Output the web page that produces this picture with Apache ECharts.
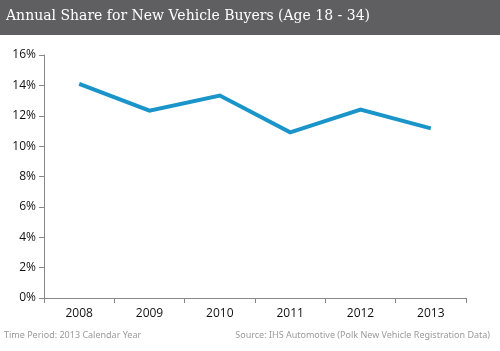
<!DOCTYPE html>
<html><head><meta charset="utf-8">
<script src="https://cdn.jsdelivr.net/npm/echarts@6/dist/echarts.min.js"></script>
<style>html,body{margin:0;padding:0;background:#fff}#c{width:500px;height:351px}</style>
</head><body><div id="c"></div>
<script>
const categories = ['2008','2009','2010','2011','2012','2013'];
const shareValues = [14.1, 12.33, 13.33, 10.91, 12.4, 11.17];
const yTicks = {min: 0, max: 16, interval: 2};
const titleText = 'Annual Share for New Vehicle Buyers (Age 18 - 34)';
const footLeft = 'Time Period: 2013 Calendar Year';
const footRight = 'Source: IHS Automotive (Polk New Vehicle Registration Data)';

const chart = echarts.init(document.getElementById('c'));
chart.setOption({
  animation: false,
  graphic: [
    {type:'rect', shape:{x:0,y:0,width:500,height:35}, style:{fill:'#5f5f61'}},
    {type:'text', left: 6, top: 9, style:{text:titleText, fill:'#ffffff', font:'14px "DejaVu Serif", "Liberation Serif", serif'}},
    {type:'text', left: 4, top: 331, style:{text:footLeft, fill:'#9a9a9a', font:'9px "Noto Sans", "Liberation Sans", sans-serif'}},
    {type:'text', right: 10, top: 331, style:{text:footRight, fill:'#9a9a9a', font:'9px "Noto Sans", "Liberation Sans", sans-serif'}}
  ],
  grid: {left: 44, right: 34, top: 55, bottom: 53},
  xAxis: {
    type: 'category', data: categories, boundaryGap: true,
    axisLine: {lineStyle: {color: '#888', width: 1}},
    axisTick: {show: true, length: 5, inside: false, lineStyle: {color: '#888'}},
    axisLabel: {color: '#111', fontSize: 12, fontFamily: '"Open Sans", "Noto Sans", sans-serif', margin: 10}
  },
  yAxis: {
    type: 'value', min: yTicks.min, max: yTicks.max, interval: yTicks.interval,
    axisLine: {show: true, lineStyle: {color: '#888', width: 1}},
    axisTick: {show: true, length: 5, lineStyle: {color: '#888'}},
    splitLine: {show: false},
    axisLabel: {color: '#111', fontSize: 12, fontFamily: '"Open Sans", "Noto Sans", sans-serif', margin: 8, formatter: v => v + '%'}
  },
  series: [{
    type: 'line', data: shareValues, symbol: 'none',
    lineStyle: {color: '#1a95c9', width: 4, join: 'miter'}
  }]
});
</script></body></html>
